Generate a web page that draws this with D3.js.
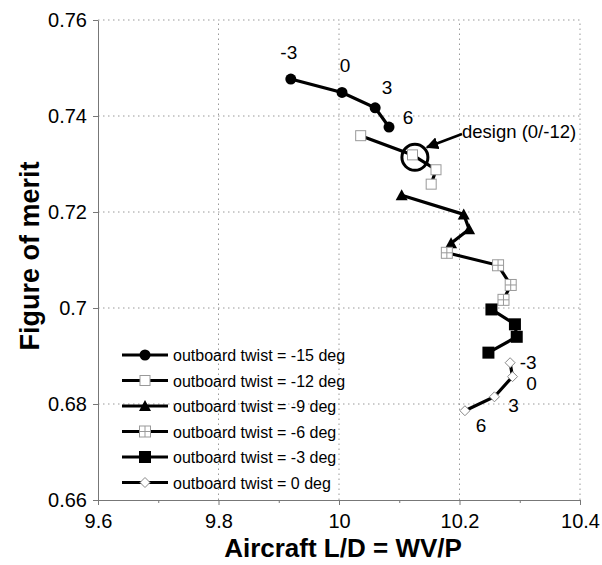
<!DOCTYPE html>
<html><head><meta charset="utf-8">
<script src="https://cdn.jsdelivr.net/npm/d3@7"></script>
<style>body{margin:0;background:#fff}svg{display:block}text{font-family:"Liberation Sans",Arial,Helvetica,sans-serif}</style>
</head><body>
<script>
// ---- data ----
const seriesNames = ["outboard twist = -15 deg","outboard twist = -12 deg","outboard twist = -9 deg","outboard twist = -6 deg","outboard twist = -3 deg","outboard twist = 0 deg"];
const markerTypes = ["circle","square","triangle","crossSquare","filledSquare","diamond"];
const ldM15 = [9.920, 10.005, 10.060, 10.083];
const fmM15 = [0.7477, 0.7449, 0.7417, 0.7377];
const ldM12 = [10.036, 10.122, 10.161, 10.153];
const fmM12 = [0.7359, 0.7319, 0.7288, 0.7258];
const ldM9 = [10.104, 10.207, 10.216, 10.186];
const fmM9 = [0.7235, 0.7195, 0.7164, 0.7135];
const ldM6 = [10.179, 10.264, 10.285, 10.273];
const fmM6 = [0.7115, 0.7089, 0.7048, 0.7017];
const ldM3 = [10.253, 10.292, 10.295, 10.248];
const fmM3 = [0.6997, 0.6966, 0.6940, 0.6907];
const ld0 = [10.284, 10.288, 10.258, 10.209];
const fm0 = [0.6886, 0.6857, 0.6815, 0.6786];
const rootTwistLabels = ["-3","0","3","6"];
const designPoint = {ld: 10.126, fm: 0.7314, label: "design (0/-12)"};
const xTicks = [9.6, 9.8, 10.0, 10.2, 10.4];
const xMinorTicks = [9.7, 9.9, 10.1, 10.3];
const yTicks = [0.66, 0.68, 0.70, 0.72, 0.74, 0.76];
const xTitle = "Aircraft L/D = WV/P";
const yTitle = "Figure of merit";

const allLd = [ldM15, ldM12, ldM9, ldM6, ldM3, ld0];
const allFm = [fmM15, fmM12, fmM9, fmM6, fmM3, fm0];

// ---- layout ----
const W = 602, H = 565;
const m = {left: 98, top: 20, right: 22, bottom: 65};
const svg = d3.select("body").append("svg").attr("width", W).attr("height", H);
const x = d3.scaleLinear().domain([9.6, 10.4]).range([m.left, W - m.right]);
const y = d3.scaleLinear().domain([0.66, 0.76]).range([H - m.bottom, m.top]);

// grid
const grid = svg.append("g").attr("stroke", "#999").attr("stroke-width", 1).attr("stroke-dasharray", "1.5,3.5");
xTicks.slice(1).forEach(t => grid.append("line").attr("x1", x(t)).attr("x2", x(t)).attr("y1", y(0.66)).attr("y2", y(0.76)));
yTicks.slice(1).forEach(t => grid.append("line").attr("x1", x(9.6)).attr("x2", x(10.4)).attr("y1", y(t)).attr("y2", y(t)));

// axes
const xAxis = svg.append("g").attr("transform", `translate(0,${y(0.66)})`)
  .call(d3.axisBottom(x).tickValues(xTicks).tickSize(5).tickSizeOuter(0).tickPadding(9).tickFormat(d => +d.toFixed(1)));
svg.append("g").attr("transform", `translate(0,${y(0.66)})`)
  .call(d3.axisBottom(x).tickValues(xMinorTicks).tickSize(3).tickFormat(""))
  .call(g => g.select(".domain").remove());
const yAxis = svg.append("g").attr("transform", `translate(${x(9.6)},0)`)
  .call(d3.axisLeft(y).tickValues(yTicks).tickSize(5).tickSizeOuter(0).tickPadding(6).tickFormat(d => +d.toFixed(2)));
[xAxis, yAxis].forEach(g => {
  g.selectAll("text").attr("font-size", 20).attr("fill", "#000").style("font-family", '"Liberation Sans",Arial,sans-serif');
  g.selectAll("line,path").attr("stroke", "#777");
});
svg.selectAll(".tick line").attr("stroke", "#777");

// titles
svg.append("text").attr("x", 343).attr("y", 557).attr("text-anchor", "middle")
  .attr("font-size", 26).attr("font-weight", "bold").text(xTitle);
svg.append("text").attr("transform", `translate(39,256) rotate(-90)`).attr("text-anchor", "middle")
  .attr("font-size", 27).attr("font-weight", "bold").text(yTitle);

// marker drawer
function drawMarker(g, type, cx, cy) {
  const s = g.append("g").attr("transform", `translate(${cx},${cy})`);
  if (type === "circle") s.append("circle").attr("r", 5.5).attr("fill", "#000");
  else if (type === "square") s.append("rect").attr("x", -5).attr("y", -5).attr("width", 10).attr("height", 10).attr("fill", "#fff").attr("stroke", "#999").attr("stroke-width", 1);
  else if (type === "triangle") s.append("path").attr("d", "M0,-6L6,5L-6,5Z").attr("fill", "#000");
  else if (type === "crossSquare") {
    s.append("rect").attr("x", -5.5).attr("y", -5.5).attr("width", 11).attr("height", 11).attr("fill", "#fff").attr("stroke", "#999").attr("stroke-width", 1);
    s.append("path").attr("d", "M0,-5.5V5.5M-5.5,0H5.5").attr("stroke", "#999").attr("stroke-width", 1);
  }
  else if (type === "filledSquare") s.append("rect").attr("x", -6).attr("y", -6).attr("width", 12).attr("height", 12).attr("fill", "#000");
  else if (type === "diamond") s.append("path").attr("d", "M0,-5L5,0L0,5L-5,0Z").attr("fill", "#fff").attr("stroke", "#888").attr("stroke-width", 1);
}

// series
const line = d3.line().x(d => x(d[0])).y(d => y(d[1]));
allLd.forEach((lds, i) => {
  const pts = lds.map((v, j) => [v, allFm[i][j]]);
  svg.append("path").datum(pts).attr("d", line).attr("fill", "none").attr("stroke", "#000").attr("stroke-width", 3.2);
  const g = svg.append("g");
  pts.forEach(p => drawMarker(g, markerTypes[i], x(p[0]), y(p[1])));
});

// root twist labels
const lab = svg.append("g").attr("font-size", 19).attr("fill", "#000");
const offM15 = [[-2, -20], [3, -20], [12, -14], [19, -3]];
ldM15.forEach((v, j) => lab.append("text").attr("x", x(v) + offM15[j][0]).attr("y", y(fmM15[j]) + offM15[j][1]).attr("text-anchor", "middle").text(rootTwistLabels[j]));
const off0 = [[18, 6], [19, 13], [19, 15], [16, 21]];
ld0.forEach((v, j) => lab.append("text").attr("x", x(v) + off0[j][0]).attr("y", y(fm0[j]) + off0[j][1]).attr("text-anchor", "middle").text(rootTwistLabels[j]));

// design point
svg.append("circle").attr("cx", x(designPoint.ld)).attr("cy", y(designPoint.fm)).attr("r", 13)
  .attr("fill", "none").attr("stroke", "#000").attr("stroke-width", 3);
svg.append("defs").append("marker").attr("id", "ah").attr("viewBox", "0 0 10 10").attr("refX", 9).attr("refY", 5)
  .attr("markerWidth", 5).attr("markerHeight", 5).attr("orient", "auto")
  .append("path").attr("d", "M0,0L10,5L0,10Z").attr("fill", "#000");
svg.append("line").attr("x1", 462).attr("y1", 134).attr("x2", x(designPoint.ld) + 12).attr("y2", y(designPoint.fm) - 10)
  .attr("stroke", "#000").attr("stroke-width", 2.5).attr("marker-end", "url(#ah)");
svg.append("text").attr("x", 462).attr("y", 138).attr("font-size", 18.5).text(designPoint.label);

// legend
const leg = svg.append("g");
seriesNames.forEach((name, i) => {
  const ly = 355 + i * 25.5;
  leg.append("line").attr("x1", 122).attr("x2", 168).attr("y1", ly).attr("y2", ly).attr("stroke", "#000").attr("stroke-width", 3);
  drawMarker(leg, markerTypes[i], 145, ly);
  leg.append("text").attr("x", 173).attr("y", ly + 6).attr("font-size", 16).text(name);
});
</script>
</body></html>
